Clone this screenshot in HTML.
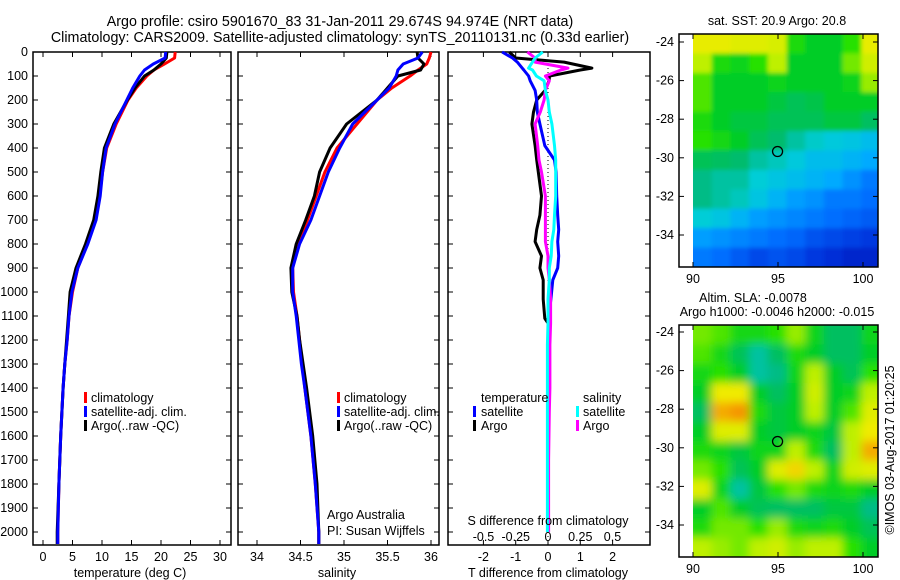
<!DOCTYPE html>
<html><head><meta charset="utf-8">
<style>
body{margin:0;background:#fff;}
svg{display:block;font-family:"Liberation Sans",sans-serif;}
text{font-size:12.5px;fill:#000;}
.ttl{font-size:14.3px;}
</style></head>
<body>
<svg id="chart" width="900" height="580" viewBox="0 0 900 580">
<defs>
<filter id="blur1" x="-5%" y="-5%" width="110%" height="110%"><feGaussianBlur stdDeviation="2"/></filter>
<filter id="blur2" x="-5%" y="-5%" width="110%" height="110%"><feGaussianBlur stdDeviation="4.5"/></filter>
<clipPath id="clipM1"><rect x="693" y="34" width="185" height="233"/></clipPath>
<clipPath id="clipM2"><rect x="693" y="325" width="185" height="232"/></clipPath>
</defs>
<text class="ttl" x="340" y="26" text-anchor="middle">Argo profile: csiro 5901670_83 31-Jan-2011 29.674S 94.974E (NRT data)</text>
<text class="ttl" x="340" y="42" text-anchor="middle">Climatology: CARS2009. Satellite-adjusted climatology: synTS_20110131.nc (0.33d earlier)</text>
<g id="layer"></g>
</svg>
<script>
// ---- shared depth axis ----
const depths = [0,25,50,75,100,150,200,300,400,500,600,700,800,900,1000,1100,1200,1300,1400,1600,1800,2000,2050];
const depthTicks = [0,100,200,300,400,500,600,700,800,900,1000,1100,1200,1300,1400,1500,1600,1700,1800,1900,2000];
// ---- temperature panel ----
const tempClim = [22.4,22.3,20.6,18.8,17.6,15.8,14.4,12.4,10.8,10.1,9.6,8.9,7.5,5.9,5.0,4.4,4.1,3.7,3.4,3.0,2.7,2.5,2.5];
const tempSat  = [20.8,20.7,18.7,17.2,16.4,15.2,14.2,12.2,10.7,10.1,9.7,9.0,7.6,5.9,4.9,4.4,4.1,3.7,3.4,3.0,2.7,2.5,2.5];
const tempArgo = [21.0,20.9,20.0,18.8,17.2,15.6,14.3,12.0,10.4,9.8,9.3,8.6,7.2,5.6,4.6,4.3,4.0,3.7,3.4,3.0,2.7,2.4,2.4];
const tempTicks = [0,5,10,15,20,25,30];
// ---- salinity panel ----
const salClim = [36.0,35.98,35.95,35.85,35.76,35.55,35.38,35.15,34.92,34.78,34.68,34.58,34.47,34.41,34.42,34.46,34.49,34.52,34.55,34.62,34.67,34.71,34.71];
const salSat  = [35.9,35.85,35.68,35.62,35.6,35.52,35.38,35.1,34.95,34.82,34.72,34.62,34.49,34.41,34.41,34.45,34.48,34.51,34.55,34.62,34.67,34.71,34.71];
const salArgo = [35.84,35.85,35.92,35.88,35.62,35.5,35.38,35.03,34.84,34.72,34.66,34.56,34.45,34.39,34.40,34.46,34.49,34.53,34.57,34.64,34.69,34.71,34.71];
const salTicks = [34,34.5,35,35.5,36];
// ---- difference panel ----
const diffDepths = [0,25,42,67,75,100,120,160,200,250,300,390,450,500,600,680,740,790,850,900,950,1030,1110,1130,1220,1400,1500,1700,2000];
const tDiffSat  = [-1.42,-1.1,-0.95,-0.8,-0.75,-0.6,-0.55,-0.4,-0.35,-0.33,-0.25,-0.1,0.2,0.25,0.27,0.3,0.33,0.3,0.33,0.3,0.15,0.09,0.02,0.02,0.0,0.0,0.0,0.0,0.0];
const tDiffArgo = [-1.2,-1.0,0.5,1.36,1.0,0.05,0.03,-0.09,-0.35,-0.45,-0.5,-0.4,-0.35,-0.3,-0.2,-0.25,-0.35,-0.4,-0.2,-0.25,-0.15,-0.15,-0.1,0.0,0.0,0.0,0.0,0.0,0.0];
const sDiffSat  = [-0.04,-0.1,-0.12,-0.15,-0.12,-0.09,-0.03,-0.02,0.0,0.01,0.03,0.05,0.06,0.06,0.06,0.05,0.045,0.03,0.025,0.01,0.01,0.0,0.0,0.0,-0.005,-0.005,-0.005,-0.005,-0.005];
const sDiffArgo = [-0.16,-0.1,-0.1,0.155,0.1,-0.02,0.01,-0.02,-0.03,-0.06,-0.1,-0.08,-0.07,-0.05,-0.02,-0.02,-0.02,-0.02,0.0,0.0,0.01,0.02,0.02,0.02,0.015,0.015,0.01,0.005,0.005];
const tDiffTicks = [-2,-1,0,1,2];
const sDiffTicks = [-0.5,-0.25,0,0.25,0.5];
const sDiffTickLabels = ["-0.5","-0.25","0","0.25","0.5"];
// ---- maps (rows: north->south, cols: west->east) ----
const map1Lons = [90,101]; const map1Lats = [-24,-36];
const sstGrid = [
[.79,.79,.78,.78,.77,.64,.6,.6,.66,.79],
[.74,.64,.62,.66,.74,.6,.6,.6,.7,.76],
[.68,.6,.6,.6,.62,.6,.6,.6,.62,.72],
[.68,.6,.6,.6,.58,.56,.57,.6,.6,.6],
[.64,.6,.58,.58,.56,.56,.56,.58,.58,.55],
[.66,.63,.6,.56,.54,.5,.47,.45,.44,.42],
[.56,.55,.54,.5,.48,.45,.42,.42,.4,.38],
[.52,.5,.5,.46,.44,.42,.4,.38,.34,.3],
[.52,.5,.48,.44,.4,.36,.34,.3,.3,.28],
[.46,.44,.4,.36,.34,.32,.3,.28,.26,.24],
[.36,.34,.32,.3,.28,.26,.22,.2,.18,.16],
[.3,.28,.24,.2,.22,.2,.16,.14,.12,.12]];
const slaGrid = [
[.7,.68,.63,.63,.66,.72,.62,.55,.55,.62],
[.68,.63,.56,.5,.55,.64,.6,.55,.55,.6],
[.63,.66,.6,.5,.52,.62,.74,.6,.56,.66],
[.6,.8,.8,.6,.55,.6,.76,.6,.62,.74],
[.55,.86,.88,.64,.58,.6,.74,.6,.68,.78],
[.6,.78,.78,.6,.58,.6,.62,.58,.74,.8],
[.64,.62,.58,.62,.62,.74,.64,.55,.74,.86],
[.7,.66,.56,.6,.78,.82,.74,.62,.76,.78],
[.78,.62,.5,.58,.66,.7,.64,.62,.64,.6],
[.6,.68,.6,.56,.55,.55,.55,.58,.58,.52],
[.64,.7,.7,.66,.72,.64,.62,.64,.6,.56],
[.74,.72,.7,.74,.76,.72,.74,.74,.66,.6]];
const argoLon = 94.974, argoLat = -29.674;
const latTicks = [-24,-26,-28,-30,-32,-34];
const lonTicks = [90,95,100];

const NS="http://www.w3.org/2000/svg";
const layer=document.getElementById('layer');
function mk(tag,attrs,parent){const e=document.createElementNS(NS,tag);for(const k in attrs)e.setAttribute(k,attrs[k]);(parent||layer).appendChild(e);return e;}
const yD = d => 52 + d*0.24;
const BOT=545, TOP=52;

function panel(name,x0,x1){
  const g=mk('g',{});
  
  
  const r=mk('rect',{x:x0,y:TOP,width:x1-x0,height:BOT-TOP,fill:'none',stroke:'#000','stroke-width':1.5},g);
  
  
  depthTicks.forEach(d=>{
    mk('line',{x1:x0,x2:x0+5,y1:yD(d),y2:yD(d),stroke:'#000'},g);
    mk('line',{x1:x1-5,x2:x1,y1:yD(d),y2:yD(d),stroke:'#000'},g);
  });
  return g;
}
function xTicks(g,vals,labels,fx,ly){
  vals.forEach((v,i)=>{
    const x=fx(v);
    mk('line',{x1:x,x2:x,y1:TOP,y2:TOP+5,stroke:'#000'},g);
    mk('line',{x1:x,x2:x,y1:BOT-5,y2:BOT,stroke:'#000'},g);
    const t=mk('text',{x:x,y:ly,'text-anchor':'middle'},g);t.textContent=labels[i];
    
    
  });
}
function line(g,xs,ds,fx,color,name,w){
  const p=xs.map((v,i)=>(i?'L':'M')+fx(v).toFixed(1)+','+yD(ds[i]).toFixed(1)).join('');
  const e=mk('path',{d:p,fill:'none',stroke:color,'stroke-width':w||3,'stroke-linejoin':'round'},g);
  
  
}
function txt(g,x,y,s,name,anchor){const t=mk('text',{x:x,y:y,'text-anchor':anchor||'start'},g);t.textContent=s;
  
  
  return t;}
function legendBar(g,x,y,color,name){const r=mk('rect',{x:x,y:y-10,width:3,height:11,fill:color},g);
  
  }

// Panel 1 temperature
const fT=v=>43+5.9*v;
const g1=panel('temperature-panel',33,231);
depthTicks.forEach(d=>txt(g1,28,yD(d)+4,String(d),'y-tick-label','end'));
xTicks(g1,tempTicks,tempTicks.map(String),fT,561);
line(g1,tempClim,depths,fT,'#f00','temp-climatology-line');
line(g1,tempArgo,depths,fT,'#000','temp-argo-line');
line(g1,tempSat,depths,fT,'#00f','temp-satellite-line');
txt(g1,130,577,'temperature (deg C)','x-axis-title','middle');
[['#f00','climatology'],['#00f','satellite-adj. clim.'],['#000','Argo(..raw -QC)']].forEach((l,i)=>{
  legendBar(g1,84,402+i*14,l[0],'legend-marker');txt(g1,91,402+i*14,l[1],'legend-entry');});

// Panel 2 salinity
const fS=v=>257+87*(v-34);
const g2=panel('salinity-panel',238,439);
xTicks(g2,salTicks,['34','34.5','35','35.5','36'],fS,561);
line(g2,salClim,depths,fS,'#f00','sal-climatology-line');
line(g2,salArgo,depths,fS,'#000','sal-argo-line');
line(g2,salSat,depths,fS,'#00f','sal-satellite-line');
txt(g2,337,577,'salinity','x-axis-title','middle');
[['#f00','climatology'],['#00f','satellite-adj. clim.'],['#000','Argo(..raw -QC)']].forEach((l,i)=>{
  legendBar(g2,337,402+i*14,l[0],'legend-marker');txt(g2,344,402+i*14,l[1],'legend-entry');});
txt(g2,327,519,'Argo Australia','credit-text');
txt(g2,327,535,'PI: Susan Wijffels','pi-text');

// Panel 3 differences
const fDT=v=>548+32.3*v;
const fDS=v=>548+129*v;
const g3=panel('difference-panel',448,650);
xTicks(g3,tDiffTicks,tDiffTicks.map(String),fDT,561);
sDiffTicks.forEach((v,i)=>txt(g3,fDS(v),541,sDiffTickLabels[i],'s-diff-tick-label','middle'));
mk('line',{x1:548,x2:548,y1:TOP,y2:BOT,stroke:'#000','stroke-dasharray':'1,3'},g3);
line(g3,tDiffArgo,diffDepths,fDT,'#000','t-diff-argo-line');
line(g3,tDiffSat,diffDepths,fDT,'#00f','t-diff-satellite-line');
line(g3,sDiffArgo,diffDepths,fDS,'#f0f','s-diff-argo-line');
line(g3,sDiffSat,diffDepths,fDS,'#0ff','s-diff-satellite-line');
txt(g3,548,525,'S difference from climatology','s-axis-title','middle');
txt(g3,548,577,'T difference from climatology','t-axis-title','middle');
txt(g3,481,402,'temperature','legend-title');
txt(g3,583,402,'salinity','legend-title');
legendBar(g3,473,416,'#00f','legend-marker');txt(g3,481,416,'satellite','legend-entry');
legendBar(g3,473,430,'#000','legend-marker');txt(g3,481,430,'Argo','legend-entry');
legendBar(g3,576,416,'#0ff','legend-marker');txt(g3,583,416,'satellite','legend-entry');
legendBar(g3,576,430,'#f0f','legend-marker');txt(g3,583,430,'Argo','legend-entry');

// custom colormap (blue -> cyan -> green -> yellow -> orange)
const cStops=[[0,[0,0,140]],[0.15,[0,50,220]],[0.28,[0,110,255]],[0.38,[0,170,255]],[0.46,[0,205,215]],[0.53,[0,185,120]],[0.6,[0,205,40]],[0.66,[40,225,0]],[0.74,[190,240,0]],[0.8,[240,235,0]],[0.88,[245,150,0]],[1,[220,40,0]]];
function cmap(v){v=Math.max(0,Math.min(1,v));
  for(let i=1;i<cStops.length;i++){if(v<=cStops[i][0]){const a=cStops[i-1],b=cStops[i],t=(v-a[0])/(b[0]-a[0]);
    return 'rgb('+a[1].map((c,k)=>Math.round(c+(b[1][k]-c)*t)).join(',')+')';}}
  return 'rgb(220,40,0)';}

function mapPanel(name,grid,y0,y1,lat24y,blur,clip,title){
  const g=mk('g',{});
  
  
  const fx=lon=>693+17*(lon-90);
  const fy=lat=>lat24y+19.3*(-24-lat);
  const cg=mk('g',{'clip-path':`url(#${clip})`},g);
  const ig=mk('g',{filter:`url(#${blur})`},cg);
  const rows=grid.length, cols=grid[0].length;
  const cw=(fx(map1Lons[1])-fx(map1Lons[0]))/cols, ch=(y1-y0)/rows;
  grid.forEach((row,ri)=>row.forEach((v,ci)=>{
    const c=mk('rect',{x:fx(90)+ci*cw-(ci==0?8:0),y:y0+ri*ch-(ri==0?8:0),width:cw+1+(ci==0?8:0)+(ci==cols-1?8:0),height:ch+1+(ri==0?8:0)+(ri==rows-1?8:0),fill:cmap(v)},ig);
    
    
  }));
  const fr=mk('rect',{x:679,y:y0,width:199,height:y1-y0,fill:'none',stroke:'#000','stroke-width':1.5},g);
  
  
  latTicks.forEach(l=>{const y=fy(l);
    mk('line',{x1:679,x2:684,y1:y,y2:y,stroke:'#000'},g);mk('line',{x1:873,x2:878,y1:y,y2:y,stroke:'#000'},g);
    txt(g,674,y+4,String(l),'lat-tick-label','end');});
  lonTicks.forEach(l=>{const x=fx(l);
    mk('line',{x1:x,x2:x,y1:y0,y2:y0+5,stroke:'#000'},g);mk('line',{x1:x,x2:x,y1:y1-5,y2:y1,stroke:'#000'},g);
    txt(g,x,y1+16,String(l),'lon-tick-label','middle');});
  const c=mk('circle',{cx:fx(argoLon),cy:fy(argoLat),r:5,fill:'none',stroke:'#000','stroke-width':1.3},g);
  
  
  title.forEach((t,i)=>txt(g,t[1],t[2],t[0],'map-title','middle'));
}
mapPanel('sst-map',sstGrid,34,267,42,'blur1','clipM1',[['sat. SST: 20.9  Argo: 20.8',777,25]]);
mapPanel('sla-map',slaGrid,325,557,332,'blur2','clipM2',[['Altim. SLA: -0.0078',753,302],['Argo h1000: -0.0046 h2000: -0.015',777,316]]);
const cr=mk('text',{x:0,y:0,transform:'translate(894,450) rotate(-90)','text-anchor':'middle'});
cr.textContent='©IMOS 03-Aug-2017 01:20:25';


</script>
</body></html>
